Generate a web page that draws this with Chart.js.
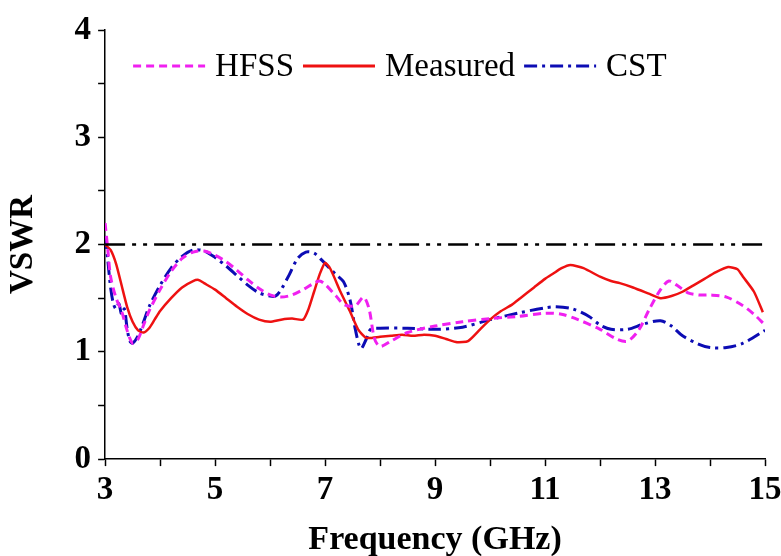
<!DOCTYPE html>
<html>
<head>
<meta charset="utf-8">
<script src="https://cdn.jsdelivr.net/npm/chart.js@4.4.1/dist/chart.umd.min.js"></script>
<style>
  html, body { margin: 0; padding: 0; background: #fff; }
  #wrap { width: 781px; height: 556px; }
</style>
</head>
<body>
<div id="wrap"><canvas id="myChart"></canvas></div>
<script>
// HFSS simulation (magenta dashed)
const hfssX = [3.0, 3.05, 3.1, 3.2, 3.3, 3.4, 3.5, 3.6, 3.7, 3.8, 4.0, 4.2, 4.4, 4.6, 4.8, 5.0, 5.2, 5.4, 5.6, 5.8, 6.0, 6.2, 6.4, 6.6, 6.8, 6.9, 7.0, 7.2, 7.35, 7.55, 7.7, 7.8, 7.9, 8.0, 8.2, 8.5, 9.0, 9.5, 10.0, 10.5, 11.0, 11.3, 11.6, 12.0, 12.3, 12.5, 12.7, 12.9, 13.1, 13.25, 13.4, 13.6, 13.8, 14.0, 14.3, 14.6, 14.8, 15.0];
const hfssY = [2.20, 1.95, 1.70, 1.50, 1.38, 1.20, 1.08, 1.12, 1.25, 1.38, 1.58, 1.75, 1.87, 1.93, 1.94, 1.90, 1.84, 1.76, 1.67, 1.59, 1.53, 1.51, 1.53, 1.58, 1.64, 1.66, 1.63, 1.52, 1.44, 1.43, 1.51, 1.40, 1.12, 1.05, 1.10, 1.18, 1.24, 1.28, 1.31, 1.33, 1.36, 1.35, 1.30, 1.21, 1.12, 1.10, 1.20, 1.40, 1.58, 1.66, 1.62, 1.55, 1.53, 1.53, 1.51, 1.43, 1.35, 1.25];

// Measured (red solid)
const measX = [3.0, 3.1, 3.2, 3.3, 3.4, 3.5, 3.6, 3.7, 3.8, 3.9, 4.0, 4.2, 4.4, 4.6, 4.7, 4.8, 5.0, 5.2, 5.4, 5.6, 5.8, 6.0, 6.2, 6.4, 6.6, 6.7, 6.8, 6.9, 7.0, 7.1, 7.28, 7.45, 7.6, 7.75, 8.0, 8.2, 8.4, 8.6, 8.8, 9.0, 9.2, 9.4, 9.6, 9.82, 10.0, 10.2, 10.4, 10.55, 10.8, 11.0, 11.15, 11.3, 11.46, 11.7, 12.0, 12.2, 12.36, 12.6, 12.9, 13.1, 13.3, 13.5, 13.7, 13.9, 14.1, 14.33, 14.5, 14.6, 14.8, 14.96];
const measY = [2.00, 1.95, 1.82, 1.62, 1.42, 1.28, 1.20, 1.18, 1.22, 1.30, 1.38, 1.50, 1.60, 1.66, 1.67, 1.64, 1.58, 1.50, 1.42, 1.35, 1.30, 1.28, 1.30, 1.31, 1.30, 1.40, 1.56, 1.72, 1.83, 1.77, 1.56, 1.38, 1.21, 1.13, 1.14, 1.15, 1.16, 1.15, 1.16, 1.15, 1.12, 1.09, 1.10, 1.21, 1.30, 1.38, 1.44, 1.50, 1.60, 1.68, 1.73, 1.78, 1.81, 1.78, 1.70, 1.66, 1.64, 1.60, 1.54, 1.50, 1.52, 1.56, 1.62, 1.68, 1.74, 1.79, 1.77, 1.70, 1.56, 1.37];

// CST simulation (blue dash-dot)
const cstX = [3.0, 3.05, 3.1, 3.15, 3.2, 3.25, 3.3, 3.35, 3.4, 3.45, 3.5, 3.6, 3.7, 3.8, 4.0, 4.2, 4.4, 4.6, 4.8, 5.0, 5.2, 5.4, 5.6, 5.8, 6.0, 6.1, 6.2, 6.35, 6.5, 6.65, 6.8, 6.95, 7.1, 7.2, 7.34, 7.46, 7.55, 7.65, 7.75, 7.83, 8.0, 8.5, 9.0, 9.5, 10.0, 10.5, 11.0, 11.2, 11.5, 11.8, 12.0, 12.2, 12.5, 12.8, 13.1, 13.3, 13.5, 13.8, 14.0, 14.3, 14.6, 15.0];
const cstY = [2.08, 1.85, 1.60, 1.45, 1.40, 1.45, 1.35, 1.40, 1.22, 1.10, 1.08, 1.15, 1.28, 1.42, 1.62, 1.78, 1.89, 1.95, 1.94, 1.88, 1.80, 1.71, 1.62, 1.55, 1.52, 1.52, 1.58, 1.72, 1.87, 1.93, 1.92, 1.85, 1.77, 1.72, 1.65, 1.47, 1.21, 1.03, 1.12, 1.21, 1.22, 1.22, 1.21, 1.23, 1.30, 1.36, 1.41, 1.42, 1.40, 1.33, 1.25, 1.21, 1.21, 1.26, 1.29, 1.24, 1.15, 1.07, 1.04, 1.04, 1.08, 1.20];

// VSWR = 2 reference line
const refX = [3, 15];
const refY = [2, 2];

const xTicks = [3, 5, 7, 9, 11, 13, 15];
const yTicks = [0, 1, 2, 3, 4];

function pts(xs, ys) {
  return xs.map((x, i) => ({ x: x, y: ys[i] }));
}

// legend drawn as a row of line samples inside the plot
const lineLegend = {
  id: 'lineLegend',
  afterDraw(chart) {
    const ctx = chart.ctx;
    const area = chart.chartArea;
    let x = area.left + 28;
    const y = area.top + 36;
    ctx.save();
    ctx.font = '33px "Liberation Serif", "Times New Roman", serif';
    ctx.textBaseline = 'middle';
    ctx.fillStyle = '#000';
    chart.data.datasets.forEach(ds => {
      if (!ds.inLegend) return;
      ctx.strokeStyle = ds.borderColor;
      ctx.lineWidth = 3;
      ctx.setLineDash(ds.borderDash || []);
      ctx.beginPath();
      ctx.moveTo(x, y);
      ctx.lineTo(x + 72, y);
      ctx.stroke();
      x += 82;
      ctx.fillText(ds.label, x, y + 1);
      x += ctx.measureText(ds.label).width + 9;
    });
    ctx.restore();
  }
};

const serif = '"Liberation Serif", "Times New Roman", serif';
const ctx = document.getElementById('myChart');
const myChart = new Chart(ctx, {
  type: 'line',
  data: {
    datasets: [
      {
        label: 'ref',
        data: pts(refX, refY),
        borderColor: '#000',
        borderWidth: 2.5,
        borderDash: [20, 7, 4, 7, 4, 7],
        pointRadius: 0,
        inLegend: false
      },
      {
        label: 'HFSS',
        data: pts(hfssX, hfssY),
        borderColor: '#f020f0',
        borderWidth: 3,
        borderDash: [8, 5],
        pointRadius: 0,
        tension: 0.3,
        inLegend: true
      },
      {
        label: 'Measured',
        data: pts(measX, measY),
        borderColor: '#ee1111',
        borderWidth: 2.5,
        pointRadius: 0,
        tension: 0.2,
        inLegend: true
      },
      {
        label: 'CST',
        data: pts(cstX, cstY),
        borderColor: '#0c0cb4',
        borderWidth: 3,
        borderDash: [13, 5, 3, 5],
        pointRadius: 0,
        tension: 0.3,
        inLegend: true
      }
    ]
  },
  options: {
    responsive: true,
    maintainAspectRatio: false,
    animation: false,
    layout: { padding: { top: 30, right: 0, left: 4, bottom: 0 } },
    plugins: {
      legend: { display: false },
      tooltip: { enabled: false }
    },
    scales: {
      x: {
        type: 'linear',
        min: 3,
        max: 15,
        afterFit: axis => { axis.paddingRight = 16; },
        border: { display: true, color: '#000', width: 1.5 },
        grid: { drawOnChartArea: false, drawTicks: true, tickLength: 7, tickColor: '#000', tickWidth: 1.5 },
        ticks: {
          stepSize: 1,
          autoSkip: false,
          maxRotation: 0,
          padding: 5,
          color: '#000',
          font: { family: serif, size: 33, weight: 'bold' },
          callback: v => xTicks.includes(v) ? String(v) : ''
        },
        title: {
          display: true,
          text: 'Frequency (GHz)',
          color: '#000',
          font: { family: serif, size: 34, weight: 'bold', lineHeight: 0.95 },
          padding: { top: 8, bottom: 0 }
        }
      },
      y: {
        min: 0,
        max: 4,
        border: { display: true, color: '#000', width: 1.5 },
        grid: { drawOnChartArea: false, drawTicks: true, tickLength: 7, tickColor: '#000', tickWidth: 1.5 },
        ticks: {
          stepSize: 0.5,
          autoSkip: false,
          padding: 7,
          color: '#000',
          font: { family: serif, size: 33, weight: 'bold' },
          callback: v => yTicks.includes(v) ? String(v) : ''
        },
        title: {
          display: true,
          text: 'VSWR',
          color: '#000',
          font: { family: serif, size: 33, weight: 'bold' },
          padding: { top: 0, bottom: 24 }
        }
      }
    }
  },
  plugins: [lineLegend]
});
</script>
</body>
</html>
